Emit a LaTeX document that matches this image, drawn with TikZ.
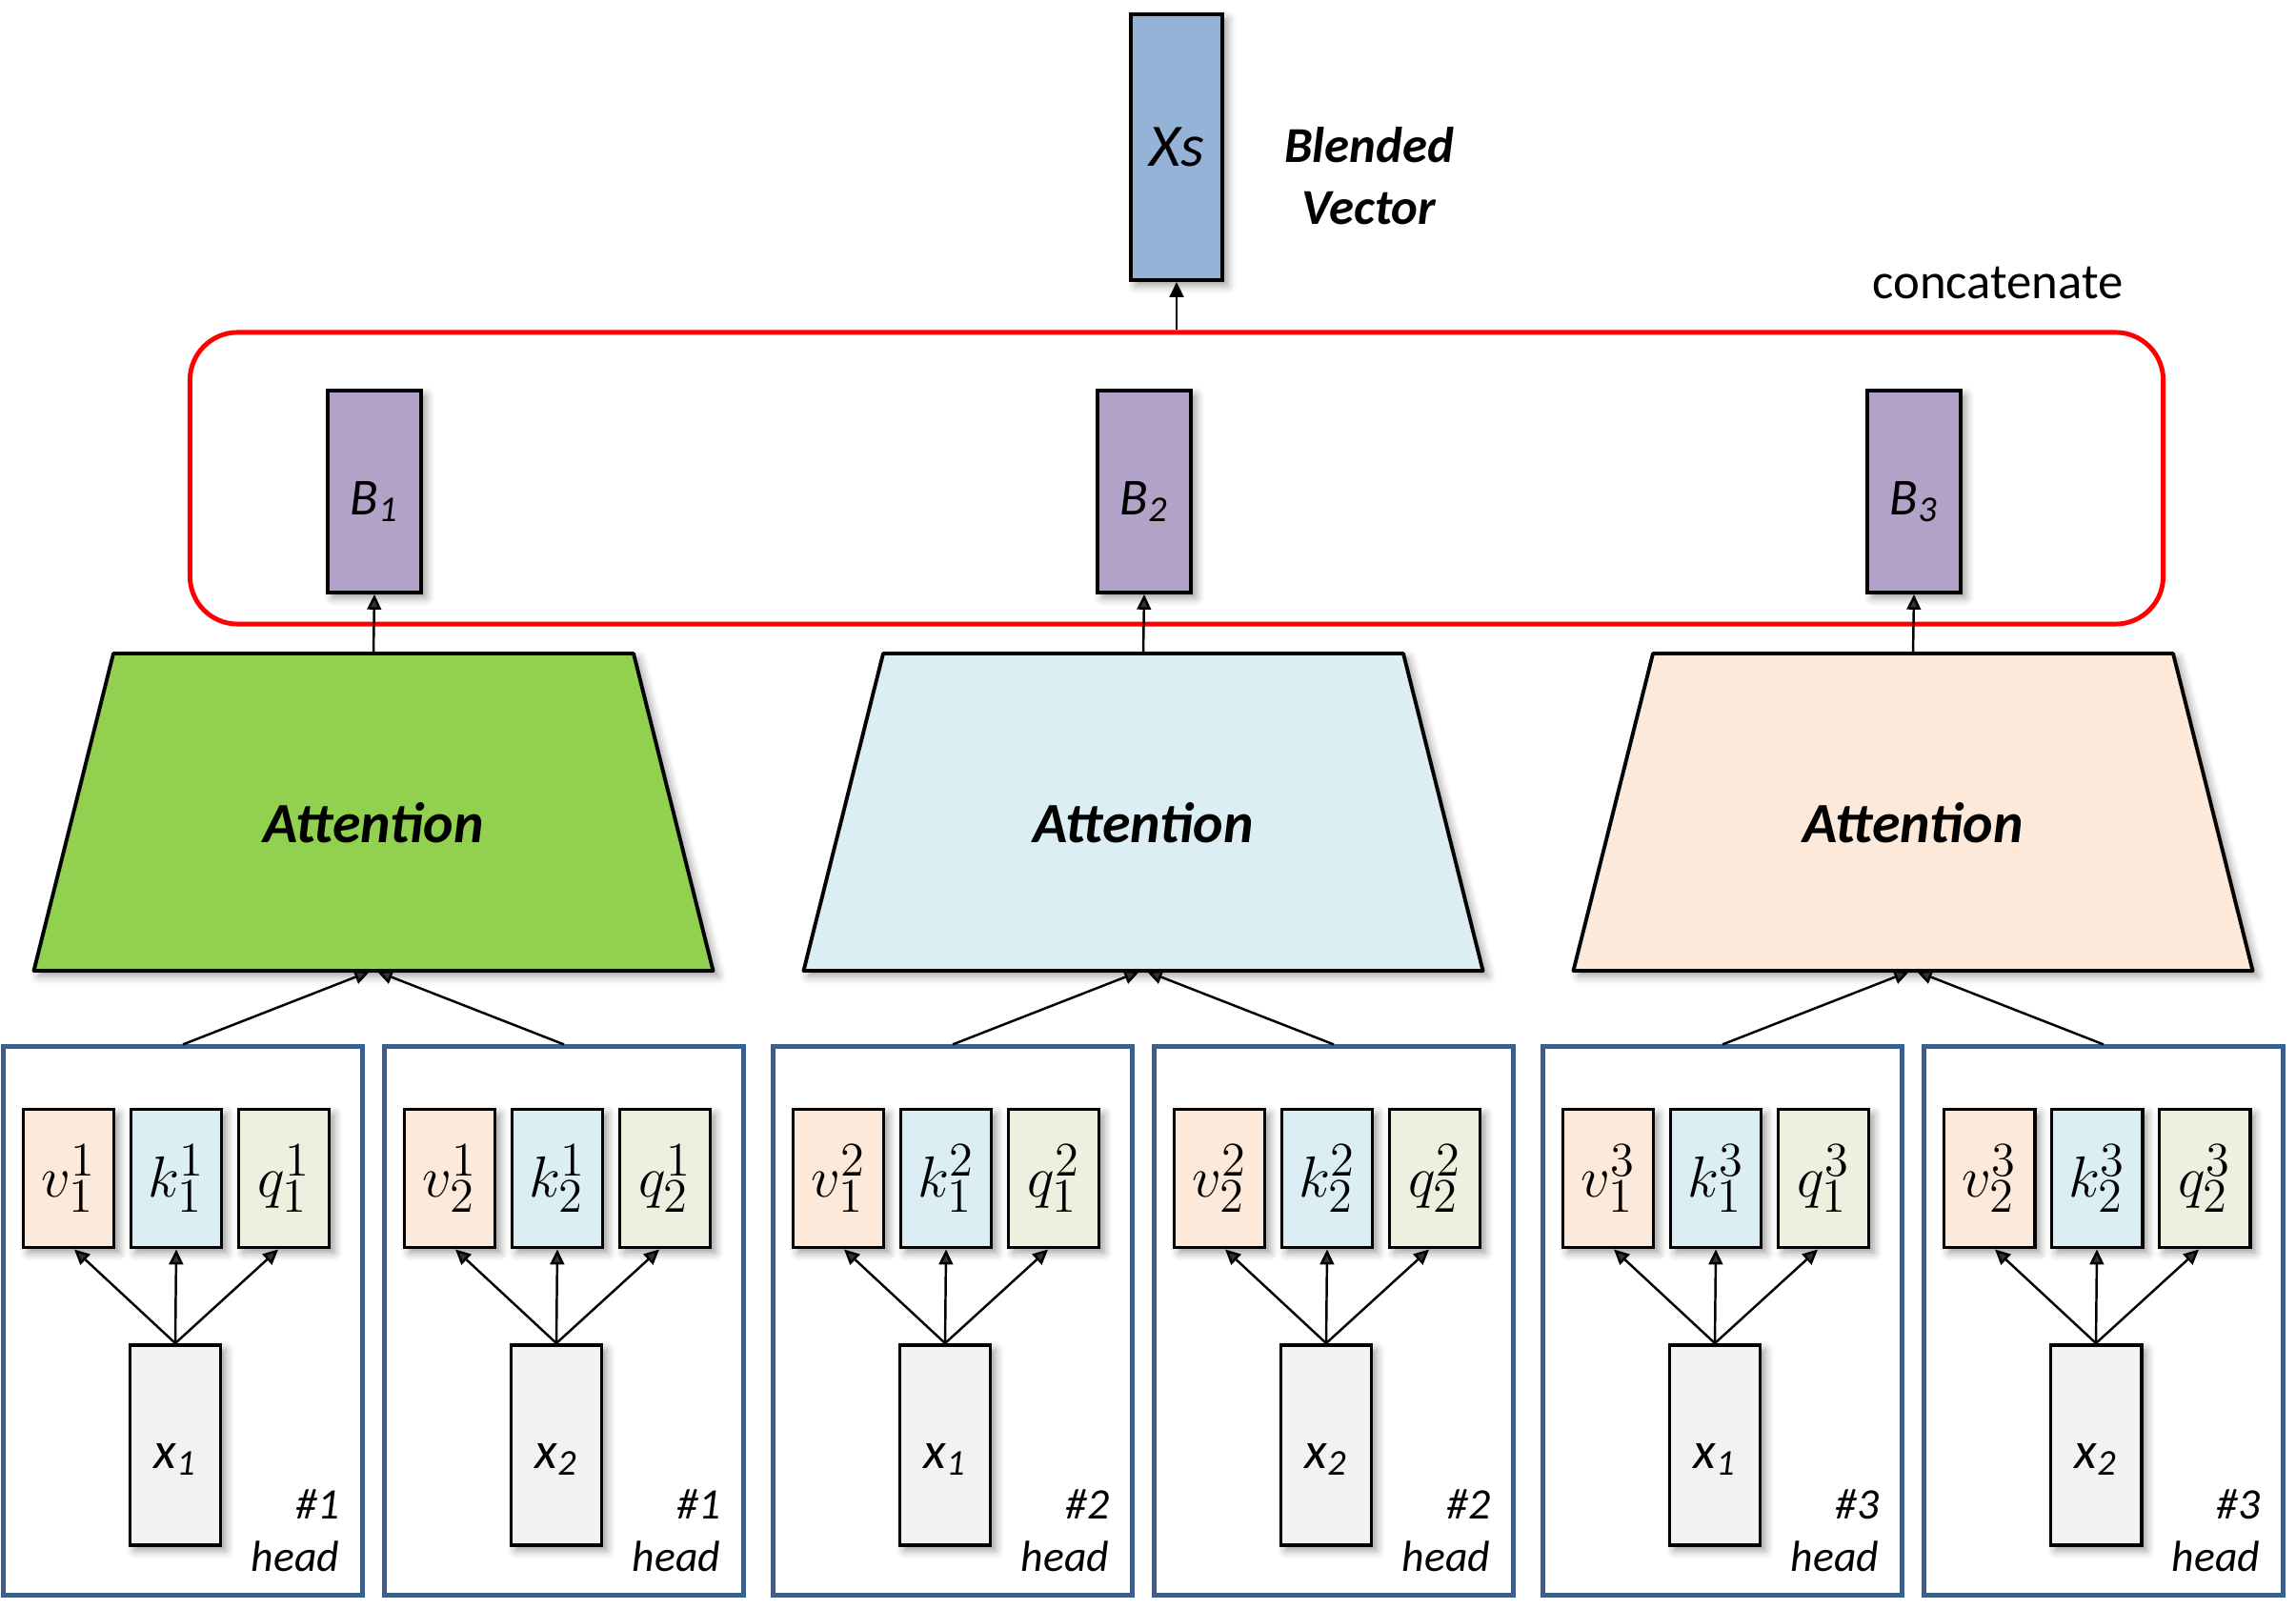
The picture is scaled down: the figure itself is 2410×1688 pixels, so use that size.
\documentclass[tikz,border=0pt]{standalone}
\usepackage{fontspec}
\setmainfont{Carlito}
\usetikzlibrary{arrows.meta,shadows.blur}
\definecolor{xsblue}{HTML}{95B3D7}
\definecolor{bpurple}{HTML}{B2A2C7}
\definecolor{attgreen}{HTML}{92D050}
\definecolor{attblue}{HTML}{DAEEF3}
\definecolor{attpeach}{HTML}{FDE9D9}
\definecolor{vpeach}{HTML}{FDE9D9}
\definecolor{kblue}{HTML}{DAEEF3}
\definecolor{qgreen}{HTML}{EBF1DE}
\definecolor{xgray}{HTML}{F2F2F2}
\definecolor{headblue}{HTML}{3A5F8C}
\definecolor{concred}{HTML}{FF0000}
\begin{document}
\begin{tikzpicture}[x=0.01cm,y=-0.01cm,
  sh/.style={blur shadow={shadow xshift=1.5pt,shadow yshift=-1.5pt,shadow blur radius=2.5pt,shadow opacity=40}},
  blk/.style={draw=black,line width=1.1pt,sh,inner sep=0pt},
  xsbox/.style={blk,fill=xsblue,minimum width=0.96cm,minimum height=2.79cm,font=\fontsize{18}{21}\selectfont\itshape},
  bbox/.style={blk,fill=bpurple,minimum width=0.98cm,minimum height=2.12cm,text height=0.5cm,text depth=0.02cm,font=\fontsize{15.5}{18}\selectfont\itshape},
  vecbox/.style={blk,minimum width=0.95cm,minimum height=1.45cm,font=\fontsize{19}{22}\selectfont},
  xbox/.style={blk,fill=xgray,minimum width=0.95cm,minimum height=2.10cm,text height=0.5cm,text depth=0.02cm,font=\fontsize{15.5}{18}\selectfont\itshape},
  trap/.style={draw=black,line width=1.1pt,line join=round,sh},
  attlbl/.style={minimum width=5.46cm,minimum height=3.33cm,inner sep=0pt,text height=0.65cm,font=\fontsize{17}{20}\selectfont\bfseries\itshape},
  headbox/.style={draw=headblue,line width=1.4pt,minimum width=3.76cm,minimum height=5.75cm,inner sep=0pt},
  headlbl/.style={align=right,inner sep=0pt,anchor=south east,font=\fontsize{13}{15.6}\selectfont\itshape},
  arr/.style={line width=0.7pt,-{Triangle[length=4.5pt,width=4.2pt]}}
]
\useasboundingbox (0,0) rectangle (2410,1688);

% top
\node[xsbox] (Xs) at (1235,154.5) {Xs};
\node[align=center,inner sep=0pt,font=\fontsize{15}{18.5}\selectfont\bfseries\itshape] (bv) at (1437,185) {Blended\\Vector};
\node[inner sep=0pt,font=\fontsize{15}{18}\selectfont] (cc) at (2097,297) {concatenate};
\node[draw=concred,line width=1.4pt,rounded corners=0.5cm,minimum width=20.70cm,minimum height=3.06cm,inner sep=0pt] (concat) at (1235,502) {};
\draw[arr] (concat.north) -- (Xs.south);

\foreach \c/\cx/\col in {1/392/attgreen,2/1200/attblue,3/2008/attpeach}{
  \draw[trap,fill=\col] ({\cx-273},686) -- ({\cx+273},686) -- ({\cx+356.5},1019) -- ({\cx-356.5},1019) -- cycle;
  \node[attlbl] (att\c) at (\cx,852.5) {Attention};
  \node[bbox] (B\c) at ({\cx+1},516) {B\textsubscript{\c}};
  \draw[arr] (att\c.north) -- (B\c.south);
  \foreach \i/\dx/\sx in {1/-200/-4,2/200/4}{
    \pgfmathsetmacro{\bx}{\cx+\dx}
    \node[headbox] (h\c\i) at (\bx,1386.5) {};
    \node[vecbox,fill=vpeach] (v\c\i) at ({\bx-120},1237) {$v_{\i}^{\c}$};
    \node[vecbox,fill=kblue] (k\c\i) at ({\bx-7},1237) {$k_{\i}^{\c}$};
    \node[vecbox,fill=qgreen] (q\c\i) at ({\bx+106},1237) {$q_{\i}^{\c}$};
    \node[xbox] (x\c\i) at ({\bx-8},1517) {x\textsubscript{\i}};
    \node[headlbl] (lbl\c\i) at ({\bx+165},1650) {\#\c\\head};
    \draw[arr] (x\c\i.north) -- ([xshift=0.06cm]v\c\i.south);
    \draw[arr] (x\c\i.north) -- (k\c\i.south);
    \draw[arr] (x\c\i.north) -- ([xshift=-0.06cm]q\c\i.south);
    \draw[arr] (h\c\i.north) -- ([xshift=\sx*0.01cm]att\c.south);
  }
}
\end{tikzpicture}
\end{document}
